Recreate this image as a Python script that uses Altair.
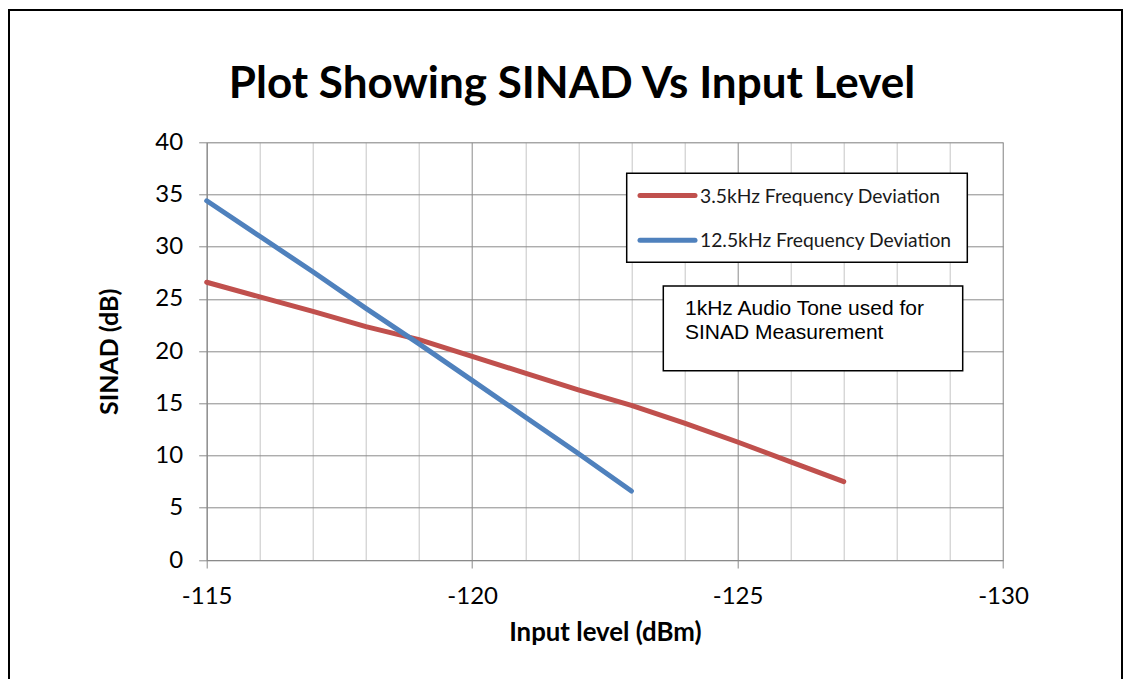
import altair as alt
import pandas as pd

# ---- data ----
input_red = [-115, -116, -117, -118, -119, -120, -121, -122, -123, -124, -125, -126, -127]
sinad_red = [26.6, 25.2, 23.8, 22.35, 21.1, 19.5, 17.9, 16.3, 14.8, 13.1, 11.3, 9.4, 7.5]
input_blue = [-115, -116, -117, -118, -119, -120, -121, -122, -123]
sinad_blue = [34.4, 31.0, 27.6, 24.1, 20.7, 17.2, 13.7, 10.2, 6.6]

series_names = ["3.5kHz Frequency Deviation", "12.5kHz Frequency Deviation"]
series_colors = ["#c0504d", "#4f81bd"]
x_grid_values = list(range(-130, -114))
y_tick_values = [0, 5, 10, 15, 20, 25, 30, 35, 40]

title_text = "Plot Showing SINAD Vs Input Level"
x_title = "Input level (dBm)"
y_title = "SINAD (dB)"
note_lines = ["1kHz Audio Tone used for", "SINAD Measurement"]

MAJOR = "#8a8a8a"
MINOR = "#c6c6c6"

df = pd.concat([
    pd.DataFrame({"input": input_red, "sinad": sinad_red, "series": series_names[0]}),
    pd.DataFrame({"input": input_blue, "sinad": sinad_blue, "series": series_names[1]}),
])

color_scale = alt.Scale(domain=series_names, range=series_colors)

x_axis = alt.Axis(
    values=x_grid_values,
    labelExpr="datum.value % 5 === 0 ? '' + datum.value : ''",
    gridColor={"condition": {"test": "datum.value % 5 === 0", "value": MAJOR}, "value": MINOR},
    tickOpacity={"condition": {"test": "datum.value % 5 === 0", "value": 1}, "value": 0},
    tickColor=MAJOR, tickSize=8, domainColor=MAJOR, domainWidth=1,
    labelFont="Lato", labelFontSize=24, labelColor="black",
    labelBaseline="alphabetic", labelPadding=35, labelFlush=False,
    title=x_title, titleFont="Lato", titleFontSize=25.8, titleFontWeight="bold",
    titleColor="black", titleY=80, titleBaseline="alphabetic",
)
y_axis = alt.Axis(
    values=y_tick_values, gridColor=MAJOR, tickColor=MAJOR, tickSize=8,
    domainColor=MAJOR,
    labelFont="Lato", labelFontSize=24, labelColor="black", labelPadding=16,
    title=y_title, titleFont="Lato", titleFontSize=25, titleFontWeight="bold",
    titleColor="black", titleX=-89, titleY=209, titleBaseline="alphabetic",
    titleAngle=270,
)

lines = alt.Chart(df).mark_line(strokeWidth=5, strokeCap="round", strokeJoin="round").encode(
    x=alt.X("input:Q", scale=alt.Scale(domain=[-130, -115], reverse=True, nice=False, zero=False), axis=x_axis),
    y=alt.Y("sinad:Q", scale=alt.Scale(domain=[0, 40], nice=False), axis=y_axis),
    color=alt.Color("series:N", scale=color_scale, legend=None),
    order="input:Q",
)

one = pd.DataFrame({"k": [0]})

border = alt.Chart(one).mark_rect(filled=False, stroke="black", strokeWidth=2).encode(
    x=alt.value(-197.7), x2=alt.value(915.3), y=alt.value(-132.3), y2=alt.value(640)
)

title_mark = alt.Chart(pd.DataFrame({"t": [title_text]})).mark_text(
    align="center", baseline="alphabetic", font="Lato", fontSize=44, fontWeight="bold", color="black"
).encode(x=alt.value(365.3), y=alt.value(-44.3), text="t:N")

legend_box = alt.Chart(one).mark_rect(fill="white", stroke="black", strokeWidth=1.5).encode(
    x=alt.value(420), x2=alt.value(760.6), y=alt.value(31), y2=alt.value(120)
)

legend_layers = []
for i, name in enumerate(series_names):
    d = pd.DataFrame({"series": [name]})
    yy = 53.2 + i * 44.8
    legend_layers.append(
        alt.Chart(d).mark_rule(strokeWidth=5, strokeCap="round").encode(
            x=alt.value(433.3), x2=alt.value(488.3), y=alt.value(yy),
            color=alt.Color("series:N", scale=color_scale, legend=None),
        )
    )
    legend_layers.append(
        alt.Chart(d).mark_text(align="left", baseline="middle", font="Lato", fontSize=19.3, color="#1a1a1a").encode(
            x=alt.value(493.3), y=alt.value(yy + 1), text="series:N"
        )
    )

note_box = alt.Chart(one).mark_rect(fill="white", stroke="black", strokeWidth=1.5).encode(
    x=alt.value(456.6), x2=alt.value(756), y=alt.value(143.7), y2=alt.value(228.4)
)
note_text = alt.Chart(pd.DataFrame({"note": ["\n".join(note_lines)]})).mark_text(
    align="left", baseline="middle", font="Liberation Sans", fontSize=21,
    lineBreak="\n", lineHeight=24, color="black"
).encode(x=alt.value(478.3), y=alt.value(167), text="note:N")

chart = alt.layer(border, title_mark, lines, legend_box, *legend_layers, note_box, note_text).properties(
    width=796.3, height=417.7,
    autosize=alt.AutoSizeParams(type="none"),
    padding={"left": 198.7, "top": 134.3, "right": 120, "bottom": 119},
).configure_view(stroke=None).configure(background="white")

chart.save("out.html", embed_options={"renderer": "svg", "actions": False})
